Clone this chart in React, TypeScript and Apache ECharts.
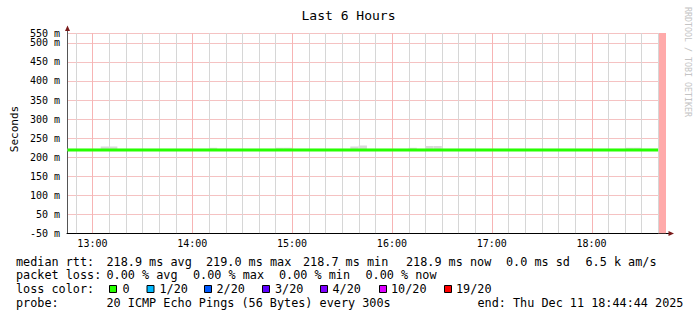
import React, { useEffect, useRef } from "react";
import * as echarts from "echarts";

// ---------- data ----------
const startTime = "12:44:44";
const endTime = "18:44:44";
const slotMinutes = 5; // 300 s probe step

const slotTimes = [
  "12:45", "12:50", "12:55",
  "13:00", "13:05", "13:10", "13:15", "13:20", "13:25", "13:30", "13:35", "13:40", "13:45", "13:50", "13:55",
  "14:00", "14:05", "14:10", "14:15", "14:20", "14:25", "14:30", "14:35", "14:40", "14:45", "14:50", "14:55",
  "15:00", "15:05", "15:10", "15:15", "15:20", "15:25", "15:30", "15:35", "15:40", "15:45", "15:50", "15:55",
  "16:00", "16:05", "16:10", "16:15", "16:20", "16:25", "16:30", "16:35", "16:40", "16:45", "16:50", "16:55",
  "17:00", "17:05", "17:10", "17:15", "17:20", "17:25", "17:30", "17:35", "17:40", "17:45", "17:50", "17:55",
  "18:00", "18:05", "18:10", "18:15", "18:20", "18:25", "18:30", "18:35", "18:40",
];

const medianRtt = [
  218.9, 218.9, 218.9,
  218.9, 218.9, 218.9, 218.9, 218.9, 218.9, 218.9, 218.9, 218.9, 218.9, 218.9, 218.9,
  218.9, 218.9, 218.9, 218.9, 218.9, 218.9, 218.9, 218.9, 218.9, 218.9, 218.9, 218.9,
  218.9, 218.9, 218.9, 218.9, 218.9, 218.9, 218.9, 218.9, 218.9, 218.9, 218.9, 218.9,
  218.9, 218.9, 218.9, 218.9, 218.9, 218.9, 218.9, 218.9, 218.9, 218.9, 218.9, 218.9,
  218.9, 218.9, 218.9, 218.9, 218.9, 218.9, 218.9, 218.9, 218.9, 218.9, 218.9, 218.9,
  218.9, 218.9, 218.9, 218.9, 218.9, 218.9, 218.9, 218.9, 218.9,
];

const smokeMin = [
  216, 216, 216,
  216, 216, 216, 216, 216, 216, 216, 216, 216, 216, 216, 216,
  216, 216, 216, 216, 216, 216, 216, 216, 216, 216, 216, 216,
  216, 216, 216, 216, 216, 216, 216, 216, 216, 216, 216, 216,
  216, 216, 216, 216, 216, 216, 216, 216, 216, 216, 216, 216,
  216, 216, 216, 216, 216, 216, 216, 216, 216, 216, 216, 216,
  216, 216, 216, 216, 216, 216, 216, 216,
];

const smokeMax = [
  222, 222, 222,
  222, 228, 228, 222, 222, 222, 222, 222, 222, 222, 222, 222,
  222, 222, 224.5, 222, 222, 222, 222, 222, 222, 222, 224.5, 224.5,
  222, 222, 222, 222, 222, 222, 222, 228, 230.5, 222, 222, 222,
  222, 222, 224.5, 222, 229, 229, 222, 222, 222, 222, 222, 222,
  222, 222, 222, 222, 222, 222, 222, 222, 222, 222, 222, 222,
  222, 222, 222, 222, 224.5, 224.5, 222, 222,
];

const unknownStart = "18:40";

const hourTicks = ["13:00", "14:00", "15:00", "16:00", "17:00", "18:00"];
const minorTicks = [
  "12:50",
  "13:10", "13:20", "13:30", "13:40", "13:50",
  "14:10", "14:20", "14:30", "14:40", "14:50",
  "15:10", "15:20", "15:30", "15:40", "15:50",
  "16:10", "16:20", "16:30", "16:40", "16:50",
  "17:10", "17:20", "17:30", "17:40", "17:50",
  "18:10", "18:20", "18:30", "18:40",
];

const yTickValues = [0, 50, 100, 150, 200, 250, 300, 350, 400, 450, 500];
const yTickLabels = ["-50 m", "50 m", "100 m", "150 m", "200 m", "250 m", "300 m", "350 m", "400 m", "450 m", "500 m"];
const yTopLabel = "550 m";
const yMax = 526;

const titleText = "Last 6 Hours";
const yAxisName = "Seconds";
const watermark = "RRDTOOL / TOBI OETIKER";

const rttTitle = "median rtt:";
const rttStats = ["218.9 ms avg", "219.0 ms max", "218.7 ms min", "218.9 ms now", "0.0 ms sd", "6.5 k am/s"];
const lossTitle = "packet loss:";
const lossStats = ["0.00 % avg", "0.00 % max", "0.00 % min", "0.00 % now"];
const colorTitle = "loss color:";
const lossLabels = ["0", "1/20", "2/20", "3/20", "4/20", "10/20", "19/20"];
const lossColors = ["#26ff00", "#00b8ff", "#0059ff", "#5e00ff", "#7e00ff", "#dd00ff", "#ff0000"];
const probeTitle = "probe:";
const probeText = "20 ICMP Echo Pings (56 Bytes) every 300s";
const endText = "end: Thu Dec 11 18:44:44 2025";

// ---------- layout ----------
const MONO = '"DejaVu Sans Mono", monospace';
const FS = 11.8;
const rttX = [106.5, 206, 303, 406, 506, 585.5];
const lossX = [106.5, 193, 279, 365.5];
const boxX = [109, 146.5, 204, 262, 320, 379, 444];
const lossLabelX = [122.5, 159.5, 216.5, 275, 332.5, 391, 456];
const rowY = [261.5, 275, 289, 302.5];

const toMin = (s: string) => {
  const p = s.split(":").map(Number);
  return p[0] * 60 + p[1] + (p[2] || 0) / 60;
};
const fmtTime = (m: number) => {
  const h = Math.floor(m / 60 + 1e-6);
  const mm = Math.round(m - h * 60);
  return `${h}:${String(mm).padStart(2, "0")}`;
};

const txt = (text: string, x: number, y: number, size: number, extra: any = {}) => ({
  type: "text",
  x,
  y,
  rotation: extra.rotation || 0,
  silent: true,
  z: 100,
  style: {
    text,
    fontSize: size,
    fontFamily: MONO,
    fill: extra.fill || "#000",
    align: extra.align || "left",
    textAlign: extra.align || "left",
    verticalAlign: "middle",
    textVerticalAlign: "middle",
  },
});

const vLineSeries = (ticks: string[], color: string, z: number) => ({
  type: "custom",
  silent: true,
  z,
  clip: true,
  data: ticks.map((t) => [toMin(t), 0]),
  renderItem: (_params: any, api: any) => {
    const top = api.coord([api.value(0), yMax]);
    const bot = api.coord([api.value(0), 0]);
    const x = Math.round(top[0]) + 0.5;
    return {
      type: "line",
      shape: { x1: x, y1: top[1], x2: x, y2: bot[1] },
      style: { stroke: color, lineWidth: 1 },
    };
  },
});

export default function App() {
  const ref = useRef<HTMLDivElement>(null);

  useEffect(() => {
    if (!ref.current) return;
    const chart = echarts.init(ref.current, undefined, { renderer: "svg" });
    const xMin = toMin(startTime);
    const xMax = toMin(endTime);
    const xs = slotTimes.map(toMin);

    const graphic: any[] = [];
    graphic.push(txt(titleText, 348.5, 15.5, 13, { align: "center" }));
    graphic.push(txt(yAxisName, 14.5, 129, 11, { align: "center", rotation: Math.PI / 2 }));
    graphic.push(txt(watermark, 687.5, 62, 8.3, { align: "center", rotation: -Math.PI / 2, fill: "#c4c4c4" }));

    graphic.push(txt(rttTitle, 16, rowY[0], FS));
    rttStats.forEach((s, i) => graphic.push(txt(s, rttX[i], rowY[0], FS)));
    graphic.push(txt(lossTitle, 16, rowY[1], FS));
    lossStats.forEach((s, i) => graphic.push(txt(s, lossX[i], rowY[1], FS)));
    graphic.push(txt(colorTitle, 16, rowY[2], FS));
    lossLabels.forEach((s, i) => {
      graphic.push({
        type: "rect",
        silent: true,
        z: 100,
        shape: { x: boxX[i] + 0.5, y: 285.5, width: 7, height: 7 },
        style: { fill: lossColors[i], stroke: "#000", lineWidth: 1 },
      });
      graphic.push(txt(s, lossLabelX[i], rowY[2], FS));
    });
    graphic.push(txt(probeTitle, 16, rowY[3], FS));
    graphic.push(txt(probeText, 106.5, rowY[3], FS));
    graphic.push(txt(endText, 477.5, rowY[3], FS));

    // axis extensions and arrows
    graphic.push({
      type: "line",
      silent: true,
      z: 100,
      shape: { x1: 67.5, y1: 33, x2: 67.5, y2: 30 },
      style: { stroke: "#555", lineWidth: 1 },
    });
    graphic.push({
      type: "polygon",
      silent: true,
      z: 100,
      shape: { points: [[65, 31], [67.5, 25.5], [70, 31]] },
      style: { fill: "#7a1a1a" },
    });
    graphic.push({
      type: "line",
      silent: true,
      z: 100,
      shape: { x1: 666, y1: 233.5, x2: 669, y2: 233.5 },
      style: { stroke: "#000", lineWidth: 1 },
    });
    graphic.push({
      type: "polygon",
      silent: true,
      z: 100,
      shape: { points: [[668.5, 231], [674, 233.5], [668.5, 236]] },
      style: { fill: "#7a1a1a" },
    });

    chart.setOption({
      animation: false,
      backgroundColor: "#ffffff",
      grid: { left: 67, top: 33, width: 599, height: 200.3, containLabel: false, outerBoundsMode: "none" },
      xAxis: {
        type: "value",
        min: xMin,
        max: xMax,
        axisLine: { show: true, onZero: false, lineStyle: { color: "#000", width: 1 } },
        axisTick: { show: false },
        splitLine: { show: false },
        axisLabel: {
          customValues: hourTicks.map(toMin),
          formatter: (v: number) => fmtTime(v),
          fontFamily: MONO,
          fontSize: 10,
          color: "#000",
          margin: 5,
        },
      },
      yAxis: {
        type: "value",
        min: 0,
        max: yMax,
        interval: 50,
        axisLine: { show: true, lineStyle: { color: "#555", width: 1 } },
        axisTick: { show: false },
        splitLine: { show: true, lineStyle: { color: "#f5c2c2", width: 1 } },
        axisLabel: {
          showMaxLabel: true,
          showMinLabel: true,
          fontFamily: MONO,
          fontSize: 10,
          color: "#000",
          margin: 7,
          formatter: (v: number) => {
            const i = yTickValues.indexOf(v);
            return i >= 0 ? yTickLabels[i] : yTopLabel;
          },
        },
      },
      series: [
        vLineSeries(minorTicks, "#d6d6d6", 1),
        vLineSeries(hourTicks, "#f7b4b4", 1),
        {
          type: "custom",
          silent: true,
          z: 2,
          clip: true,
          data: smokeMin.map((lo, i) => [xs[i], lo, smokeMax[i]]),
          renderItem: (_params: any, api: any) => {
            const p0 = api.coord([api.value(0), api.value(2)]);
            const p1 = api.coord([api.value(0) + slotMinutes, api.value(1)]);
            return {
              type: "rect",
              shape: { x: p0[0], y: p0[1], width: p1[0] - p0[0], height: p1[1] - p0[1] },
              style: { fill: "#d9d9d9" },
            };
          },
        },
        {
          type: "line",
          step: "end",
          symbol: "none",
          silent: true,
          z: 3,
          lineStyle: { width: 3, color: "#26ff00" },
          data: xs.map((x, i) => [x, medianRtt[i]]),
          markArea: {
            silent: true,
            itemStyle: { color: "#ffaaaa", opacity: 1 },
            data: [[{ xAxis: toMin(unknownStart) }, { xAxis: xMax }]],
          },
        },
      ],
      graphic,
    });

    return () => chart.dispose();
  }, []);

  return (
    <div
      ref={ref}
      style={{ position: "fixed", left: 0, top: 0, width: 697, height: 321, background: "#fff" }}
    />
  );
}
